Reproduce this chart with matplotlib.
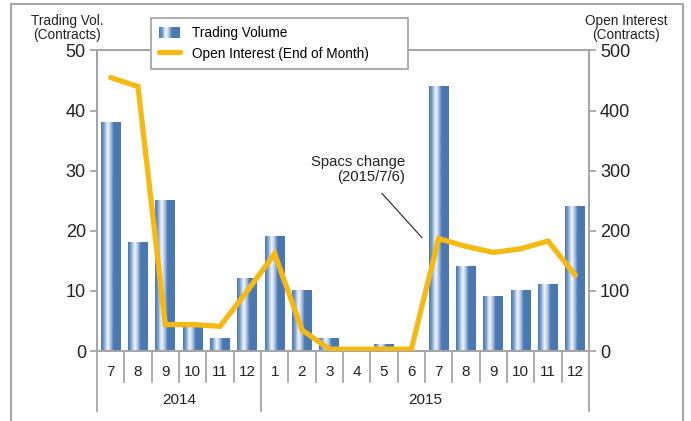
import matplotlib
matplotlib.use('Agg')
import matplotlib.pyplot as plt
import numpy as np
from matplotlib.colors import LinearSegmentedColormap
from matplotlib.patches import Rectangle
from matplotlib.lines import Line2D
from matplotlib.legend_handler import HandlerBase

plt.rcParams['font.family'] = ['Liberation Sans', 'DejaVu Sans']

months = ['7', '8', '9', '10', '11', '12', '1', '2', '3', '4', '5', '6',
          '7', '8', '9', '10', '11', '12']
years = ['2014', '2015']
year_span = [(0, 5), (6, 17)]
trading_volume = [38, 18, 25, 4, 2, 12, 19, 10, 2, 0, 1, 0, 44, 14, 9, 10, 11, 24]
open_interest = [455, 440, 44, 44, 41, 100, 162, 35, 3, 3, 3, 3, 187, 174, 164, 170, 183, 126]

grey = '#a6a6a6'
bar_blue = '#4a78b0'
line_col = '#f5b914'
txt = '#222222'

cmap = LinearSegmentedColormap.from_list(
    'bar', [(0, bar_blue), (0.12, '#7097c8'), (0.33, '#f4f7fc'),
            (0.47, '#b9cbe6'), (0.64, bar_blue), (1, bar_blue)])


class GradHandler(HandlerBase):
    def create_artists(self, legend, orig_handle, xdescent, ydescent,
                       width, height, fontsize, trans):
        n = 24
        arts = []
        for i in range(n):
            r = Rectangle((-xdescent + i * width / n, -ydescent), width / n, height,
                          facecolor=cmap((i + 0.5) / n), edgecolor='none',
                          transform=trans)
            arts.append(r)
        return arts


fig = plt.figure(figsize=(6.91, 4.21), dpi=100)
ax = fig.add_axes([0.14038, 0.16627, 0.712, 0.7138])

x = np.arange(len(months))
w = 0.73
for xi, v in zip(x, trading_volume):
    if v > 0:
        ax.imshow(np.linspace(0, 1, 64).reshape(1, -1), cmap=cmap, aspect='auto',
                  extent=[xi - w / 2, xi + w / 2, 0, v], interpolation='bilinear',
                  zorder=2)

ax.set_xlim(-0.5, len(months) - 0.5)
ax.set_ylim(0, 50)
ax.set_yticks(range(0, 51, 10))
ax.set_xticks([])
for s in ax.spines.values():
    s.set_color(grey)
    s.set_linewidth(1.3)
ax.tick_params(axis='y', length=5, width=1.3, color=grey, labelsize=13,
               labelcolor=txt, pad=3)

ax2 = ax.twinx()
ax2.plot(x, open_interest, color=line_col, lw=3.8, solid_joinstyle='miter',
         solid_capstyle='round', zorder=3)
ax2.set_ylim(0, 500)
ax2.set_yticks(range(0, 501, 100))
for s in ax2.spines.values():
    s.set_color(grey)
    s.set_linewidth(1.3)
ax2.tick_params(axis='y', length=5, width=1.3, color=grey, labelsize=13,
                labelcolor=txt, pad=3)

# category axis below the plot
tr = ax.get_xaxis_transform()
for k in range(len(months) + 1):
    xb = k - 0.5
    low = -0.2 if k in (0, 6, len(months)) else -0.103
    ax.plot([xb, xb], [0, low], color=grey, lw=1.3, transform=tr, clip_on=False)
for xi, m in zip(x, months):
    ax.text(xi, -0.07, m, transform=tr, ha='center', va='center', fontsize=11,
            color=txt)
for yr, (a, b) in zip(years, year_span):
    ax.text((a + b) / 2, -0.163, yr, transform=tr, ha='center', va='center',
            fontsize=11, color=txt)

# annotation
ax.annotate('', xy=(11.46, 18.5), xytext=(9.85, 26.6),
            arrowprops=dict(arrowstyle='-', color='#222222', lw=0.8))
ax.text(10.77, 30.2, 'Spacs change\n(2015/7/6)', ha='right', va='center',
        multialignment='right', fontsize=10.7, color=txt, linespacing=1.15)

# axis titles
fig.text(67 / 691, 1 - 27.5 / 421, 'Trading Vol.\n(Contracts)', ha='center',
         va='center', fontsize=9.8, color=txt, linespacing=1.0)
fig.text(626 / 691, 1 - 27.5 / 421, 'Open Interest\n(Contracts)', ha='center',
         va='center', fontsize=9.8, color=txt, linespacing=1.0)

handles = [Rectangle((0, 0), 1, 1),
           Line2D([0], [0], color=line_col, lw=3.8, solid_capstyle='round')]
leg = ax2.legend(handles, ['Trading Volume', 'Open Interest (End of Month)'],
                 handler_map={Rectangle: GradHandler()},
                 loc='upper left', bbox_to_anchor=(0.110, 0.9, 0.5224, 0.208),
                 mode='expand', borderaxespad=0, fancybox=False, framealpha=1,
                 fontsize=9.8, handlelength=1.5, handleheight=0.9, borderpad=0.6,
                 labelspacing=0.47, handletextpad=0.9)
leg.get_frame().set_edgecolor(grey)
leg.get_frame().set_linewidth(1.3)

fig.add_artist(Rectangle((11 / 691, -0.05), (683 - 11) / 691, 0.9905 + 0.05,
                         transform=fig.transFigure, fill=False, edgecolor=grey,
                         lw=1.5))

fig.savefig('out.png', dpi=100)
